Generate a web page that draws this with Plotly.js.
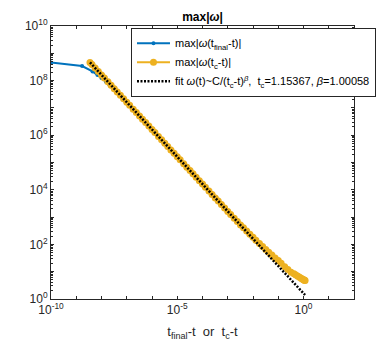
<!DOCTYPE html>
<html>
<head>
<meta charset="utf-8">
<script src="https://cdn.plot.ly/plotly-3.0.1.min.js"></script>
<style>
  html, body { margin: 0; padding: 0; background: #fff; }
</style>
</head>
<body>
<div id="chart" style="width:391px;height:347px;"></div>
<script>
// max|w(t_final - t)|  (blue, mostly hidden under the orange one)
const blueX = [1e-10, 1.7e-9, 4.4e-9, 6.9e-9, 9.9e-9, 1.49e-8, 2.1e-8, 2.9e-8, 5.3e-8, 9.7e-8,
               1e-6, 1e-5, 1e-4, 1e-3, 1e-2, 0.1, 1.15];
const blueY = [4.6e8, 3.4e8, 2.16e8, 1.62e8, 1.25e8, 9.0e7, 6.75e7, 5.06e7, 2.89e7, 1.62e7,
               1.62e6, 1.62e5, 1.62e4, 1620, 182, 25.7, 4.8];

// max|w(t_c - t)|  (orange)
const orangeX = [
  3.5e-9, 4.2e-9, 5.6e-9, 7.5e-9,
  1e-8, 1.3e-8, 1.8e-8, 2.4e-8, 3.2e-8, 4.2e-8, 5.6e-8, 7.5e-8,
  1e-7, 1.3e-7, 1.8e-7, 2.4e-7, 3.2e-7, 4.2e-7, 5.6e-7, 7.5e-7,
  1e-6, 1.3e-6, 1.8e-6, 2.4e-6, 3.2e-6, 4.2e-6, 5.6e-6, 7.5e-6,
  1e-5, 1.3e-5, 1.8e-5, 2.4e-5, 3.2e-5, 4.2e-5, 5.6e-5, 7.5e-5,
  1e-4, 1.3e-4, 1.8e-4, 2.4e-4, 3.2e-4, 4.2e-4, 5.6e-4, 7.5e-4,
  1e-3, 1.3e-3, 1.8e-3, 2.4e-3, 3.2e-3, 4.2e-3, 5.6e-3, 7.5e-3,
  1e-2, 1.3e-2, 1.8e-2, 2.4e-2, 3.2e-2, 4.2e-2, 5.6e-2, 7.5e-2,
  0.1, 0.13, 0.18, 0.24, 0.32, 0.42, 0.5, 0.6, 0.7, 0.8, 0.9, 1.0, 1.05, 1.1, 1.154
];
const orangeY = [
  4.6e8, 3.86e8, 2.89e8, 2.16e8,
  1.62e8, 1.25e8, 9.0e7, 6.75e7, 5.06e7, 3.86e7, 2.89e7, 2.16e7,
  1.62e7, 1.25e7, 9.0e6, 6.75e6, 5.06e6, 3.86e6, 2.89e6, 2.16e6,
  1.62e6, 1.25e6, 9.0e5, 6.75e5, 5.06e5, 3.86e5, 2.89e5, 2.16e5,
  1.62e5, 1.25e5, 9.0e4, 6.75e4, 5.06e4, 3.86e4, 2.89e4, 2.16e4,
  1.62e4, 1.25e4, 9.0e3, 6.75e3, 5.06e3, 3.86e3, 2.89e3, 2.16e3,
  1620, 1246, 900, 690, 518, 404, 310, 237,
  182, 143, 107, 83, 65, 52, 40.8, 32,
  25.7, 20.4, 15.1, 12.0, 9.5, 8.5, 7.6, 6.8, 6.2, 5.75, 5.4, 5.1, 5.0, 4.9, 4.8
];

// power-law fit, end points
const fitX = [3.5e-9, 1.154];
const fitY = [4.63e8, 1.40];

const xTickVals = [1e-10, 1e-9, 1e-8, 1e-7, 1e-6, 1e-5, 1e-4, 1e-3, 1e-2, 1e-1, 1, 10, 100];
const xTickText = ['10<sup>-10</sup>', '', '', '', '', '10<sup>-5</sup>', '', '', '', '', '10<sup>0</sup>', '', ''];
const yTickVals = [1, 10, 100, 1e3, 1e4, 1e5, 1e6, 1e7, 1e8, 1e9, 1e10];
const yTickText = ['10<sup>0</sup>', '', '10<sup>2</sup>', '', '10<sup>4</sup>', '', '10<sup>6</sup>', '', '10<sup>8</sup>', '', '10<sup>10</sup>'];

const font = 'Liberation Sans, Arial, sans-serif';
const axisColor = '#262626';

const traces = [
  {
    x: blueX, y: blueY, type: 'scatter', mode: 'lines+markers',
    name: 'max|<i>ω</i>(t<sub>final</sub>-t)|', legendgroup: 'a',
    line: { color: '#0072BD', width: 2 },
    marker: { color: '#0072BD', size: 4 }
  },
  {
    x: orangeX, y: orangeY, type: 'scatter', mode: 'lines+markers',
    name: 'max|<i>ω</i>(t<sub>c</sub>-t)|', legendgroup: 'b',
    line: { color: '#EDB120', width: 2 },
    marker: { color: '#EDB120', size: 7 }
  },
  {
    x: fitX, y: fitY, type: 'scatter', mode: 'lines',
    name: 'fit <i>ω</i>(t)~C/(t<sub>c</sub>-t)<sup><i>β</i></sup>,&nbsp; t<sub>c</sub>=1.15367, <i>β</i>=1.00058', legendgroup: 'c',
    line: { color: '#000', width: 2.5, dash: '2px,1.5px' }
  }
];

const axisBase = {
  type: 'log',
  showline: true, linecolor: axisColor, linewidth: 1,
  mirror: 'ticks', ticks: 'inside', ticklen: 3, tickcolor: axisColor,
  showgrid: false, zeroline: false,
  tickfont: { family: font, size: 12, color: axisColor }
};

const layout = {
  width: 391, height: 347,
  margin: { l: 51, r: 37, t: 26, b: 48 },
  paper_bgcolor: '#fff', plot_bgcolor: '#fff',
  font: { family: font, color: axisColor },
  showlegend: true,
  title: {
    text: '<b>max|<i>ω</i>|</b>',
    font: { family: font, size: 12, color: '#000' },
    x: 0.5, xref: 'paper', xanchor: 'center',
    y: 0.953, yref: 'container', yanchor: 'middle'
  },
  xaxis: Object.assign({}, axisBase, {
    range: [-10, 2],
    tickmode: 'array', tickvals: xTickVals, ticktext: xTickText,
    title: { text: 't<sub>final</sub>-t&nbsp; or&nbsp; t<sub>c</sub>-t', font: { family: font, size: 13, color: axisColor }, standoff: 10 }
  }),
  yaxis: Object.assign({}, axisBase, {
    range: [0, 10],
    tickmode: 'array', tickvals: yTickVals, ticktext: yTickText,
    minor: { ticks: 'inside', ticklen: 2, dtick: 'D1', tickcolor: axisColor }
  }),
  legend: {
    x: 0.264, xanchor: 'left', y: 0.994, yanchor: 'top',
    bgcolor: '#fff', bordercolor: axisColor, borderwidth: 1,
    font: { family: font, size: 11, color: '#000' },
    itemwidth: 33, tracegroupgap: 0
  }
};

Plotly.newPlot('chart', traces, layout, { displayModeBar: false, staticPlot: true });
</script>
</body>
</html>
